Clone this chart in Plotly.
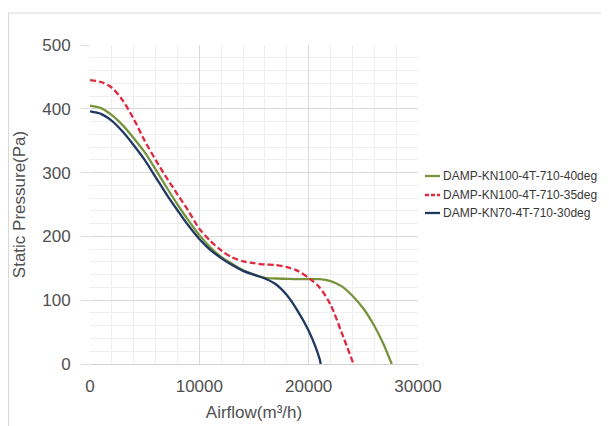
import plotly.graph_objects as go

# ---- data ----
x_green = [0, 1000, 2000, 3000, 4000, 5000, 6000, 7000, 8000, 9000, 10000, 11000, 12000, 13000,
           14000, 15000, 16000, 17000, 18000, 19000, 20000, 21000, 22000, 23000, 24000, 25000,
           26000, 26800, 27600]
y_green = [405, 401, 390, 374, 354, 332, 305, 277, 250, 225, 202, 183, 168, 157,
           147, 140, 135, 134, 133.5, 133, 133, 133, 130, 122, 107, 87,
           60, 33, 0]

x_red = [0, 1000, 2000, 3000, 4000, 5000, 6000, 7000, 8000, 9000, 10000, 11000, 12000, 13000,
         14000, 15000, 16000, 17000, 18000, 19000, 20000, 21000, 22000, 23000, 24100]
y_red = [445, 442, 433, 413, 384, 350, 320, 292, 266, 240, 212, 193, 178, 167,
         161, 158, 156, 155, 152, 146, 135, 120, 93, 50, 0]

x_blue = [0, 1000, 2000, 3000, 4000, 5000, 6000, 7000, 8000, 9000, 10000, 11000, 12000, 13000,
          14000, 15000, 16000, 17000, 18000, 19000, 20000, 21000, 21100]
y_blue = [396, 392, 381, 364, 343, 320, 293, 266, 241, 217, 196, 179, 166, 155,
          146, 140, 134, 125, 108, 83, 52, 8, 0]

series_names = ["DAMP-KN100-4T-710-40deg", "DAMP-KN100-4T-710-35deg", "DAMP-KN70-4T-710-30deg"]
series_colors = ["#77933C", "#E2283E", "#1F3864"]
series_dash = ["solid", "6px,3px", "solid"]

x_ticks = [0, 10000, 20000, 30000]
y_ticks = [0, 100, 200, 300, 400, 500]

fig = go.Figure()
for xs, ys, name, col, dash in zip([x_green, x_red, x_blue], [y_green, y_red, y_blue],
                                    series_names, series_colors, series_dash):
    fig.add_trace(go.Scatter(x=xs, y=ys, mode="lines", name=name,
                             line=dict(color=col, width=2.3, dash=dash, shape="spline", smoothing=0.8),
                             showlegend=False))

FONT = "Liberation Sans, Arial, sans-serif"
TXT = "#505050"
# page body has an 8px margin, so the figure is sized/margined accordingly
fig.update_layout(
    width=601, height=418,
    margin=dict(l=82, r=191, t=37, b=62, autoexpand=False),
    paper_bgcolor="white", plot_bgcolor="white",
    font=dict(family=FONT, color=TXT),
)
fig.update_xaxes(
    automargin=False,
    range=[0, 30000], tickvals=x_ticks, ticktext=[str(v) for v in x_ticks],
    showgrid=True, gridcolor="#d9d9d9", gridwidth=1,
    minor=dict(dtick=2000, showgrid=True, gridcolor="#eeeeee", gridwidth=1),
    showline=True, linecolor="#d0d0d0", linewidth=1,
    zeroline=False, ticks="", tickfont=dict(size=17, color=TXT),
    ticklabelstandoff=7,
    title=dict(text="Airflow(m³/h)", font=dict(size=17, color=TXT), standoff=10),
)
fig.update_yaxes(
    automargin=False,
    range=[0, 500], tickvals=y_ticks,
    showgrid=True, gridcolor="#d9d9d9", gridwidth=1,
    minor=dict(dtick=20, showgrid=True, gridcolor="#eeeeee", gridwidth=1),
    zeroline=False, ticks="outside", ticklen=8, tickcolor="#d9d9d9",
    tickfont=dict(size=17, color=TXT),
    ticklabelstandoff=7,
    title=dict(text="Static Pressure(Pa)", font=dict(size=17, color=TXT), standoff=12),
)

# chart-area frame (left edge of the figure, top ~13px in the window)
fig.add_shape(type="rect", xref="paper", yref="paper", x0=-0.2485, x1=1.62, y0=-0.25, y1=1.1003,
              line=dict(color="#d9d9d9", width=1.2), fillcolor="rgba(0,0,0,0)", layer="below")

# custom legend (short line samples + labels)
leg_y = [0.5893, 0.5298, 0.4734]
for name, col, dash, yy in zip(series_names, series_colors, series_dash, leg_y):
    fig.add_shape(type="line", xref="paper", yref="paper", x0=1.0213, x1=1.067, y0=yy, y1=yy,
                  line=dict(color=col, width=2.3, dash=dash if dash == "solid" else "4px,2px"))
    fig.add_annotation(xref="paper", yref="paper", x=1.0701, y=yy, text=name, showarrow=False,
                       xanchor="left", yanchor="middle",
                       font=dict(family=FONT, size=12, color="#383838"))

fig.write_html("out.html")
